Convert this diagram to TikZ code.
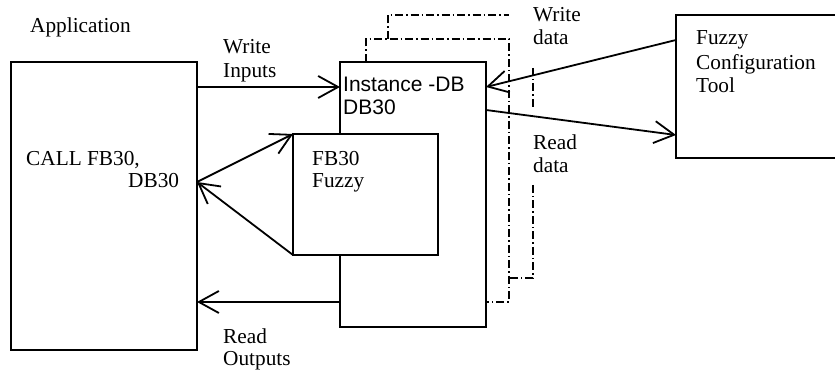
\documentclass[tikz,border=0pt]{standalone}
\usepackage{fontspec}
\setmainfont{Liberation Serif}
\newfontfamily\arialfont{Liberation Sans}
\usetikzlibrary{arrows.meta,calc}
\begin{document}
\begin{tikzpicture}[x=1pt,y=-1pt,
  box/.style={draw,line width=1.8pt,fill=white,inner sep=0pt,outer sep=0pt,anchor=center},
  lbl/.style={anchor=base west,inner sep=0pt,font=\fontsize{21.3}{25}\selectfont},
  albl/.style={anchor=base west,inner sep=0pt,font=\arialfont\fontsize{21}{25}\selectfont},
  arr/.style={line width=1.8pt,-{Straight Barb[length=20pt,width=22pt,line width=1.8pt]}},
  dd/.style={line width=1.6pt,dash pattern=on 8pt off 3pt on 1.5pt off 3pt}]
\useasboundingbox (0,0) rectangle (835,371);
% stacked dash-dot instance copies
\draw[dd] (388,39) -- (388,15) -- (509,15);
\draw[dd] (533,68) -- (533,110);
\draw[dd] (533,185) -- (533,278) -- (509,278);
\draw[dd] (366,62) -- (366,39) -- (509,39) -- (509,302) -- (486,302);
% boxes
\node[box,minimum width=186pt,minimum height=288pt] (app) at (104,206) {};
\node[box,minimum width=146pt,minimum height=265pt] (inst) at (413,194.5) {};
\node[box,minimum width=145pt,minimum height=121pt] (fb) at (365.5,194.5) {};
\node[box,minimum width=174pt,minimum height=143pt] (tool) at (763,86.5) {};
% connector points
\coordinate (appin) at ($(app.north east)+(0,120)$);
% connectors
\draw[arr] ($(app.north east)+(0,25)$) -- ($(inst.north west)+(0,25)$);
\draw[arr] (appin) -- (fb.north west);
\draw[arr] (fb.south west) -- (appin);
\draw[arr] ($(inst.south west)+(0,-25)$) -- ($(app.north east)+(0,240)$);
\draw[arr] ($(tool.north west)+(0,25)$) -- ($(inst.north east)+(0,25)$);
\draw[arr] ($(inst.north east)+(0,48)$) -- ($(tool.north west)+(0,120)$);
% texts
\node[lbl] (t1) at (30,33) {Application};
\node[lbl] (t2) at (223,54) {Write};
\node[lbl] (t3) at (223,78) {Inputs};
\node[lbl] (t4) at (26,166) {CALL FB30,};
\node[lbl] (t5) at (128,188) {DB30};
\node[lbl] (t6) at (312,166) {FB30};
\node[lbl] (t7) at (312,188) {Fuzzy};
\node[albl] (t8) at (343,92) {Instance -DB};
\node[albl] (t9) at (343,115) {DB30};
\node[lbl] (t10) at (223,343) {Read};
\node[lbl] (t11) at (223,365) {Outputs};
\node[lbl] (t12) at (533,22) {Write};
\node[lbl] (t13) at (533,45) {data};
\node[lbl] (t14) at (533,150) {Read};
\node[lbl] (t15) at (533,173) {data};
\node[lbl] (t16) at (696,45) {Fuzzy};
\node[lbl] (t17) at (696,70) {Configuration};
\node[lbl] (t18) at (696,93) {Tool};
\end{tikzpicture}
\end{document}
